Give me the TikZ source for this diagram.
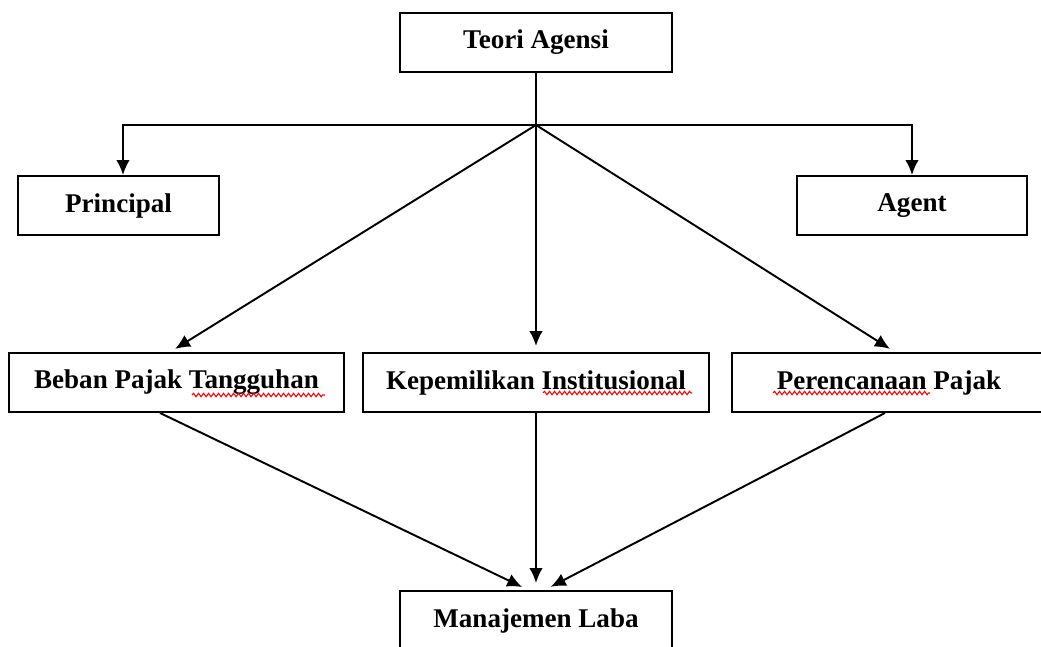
\documentclass[tikz,border=0pt]{standalone}
\usepackage{fontspec}
\setmainfont{Liberation Serif}
\usetikzlibrary{arrows.meta,decorations.pathmorphing}

\tikzset{
  kotak/.style={draw,line width=1.1pt,inner sep=0pt,minimum height=1.18cm,
    font=\fontsize{15.4}{18}\selectfont\bfseries},
  panah/.style={line width=1.1pt,-{Latex[length=0.3cm,width=0.27cm]}},
  garis/.style={line width=1.1pt},
  salah/.style={red,line width=0.6pt,decorate,
    decoration={snake,segment length=0.1cm,amplitude=0.035cm}}
}

\begin{document}
\begin{tikzpicture}[x=0.02cm,y=-0.02cm]
   \useasboundingbox (0,0) rectangle (1041,646);

   % kotak-kotak
   \node[kotak,minimum width=5.44cm] (teori) at (536,42.5) {Teori Agensi};
   \node[kotak,minimum width=4.02cm] (principal) at (118.5,205.5) {Principal};
   \node[kotak,minimum width=4.6cm] (agent) at (912,205.5) {Agent};

   \node[kotak,minimum width=6.7cm] (beban) at (176.5,382.5) {Beban Pajak Tangguhan};
   \node[kotak,minimum width=6.92cm] (milik) at (536,382.5) {Kepemilikan Institusional};
   \node[kotak,minimum width=6.28cm] (rencana) at (889,382.5) {Perencanaan Pajak};

   \node[kotak,minimum width=5.44cm] (laba) at (536,620.5) {Manajemen Laba};

   % garis bercabang
   \coordinate (cabang) at (536,125);
   \draw[garis] (teori.south) -- (cabang);
   \draw[panah] (cabang) -| ([xshift=0.09cm]principal.north);
   \draw[panah] (cabang) -| (agent.north);
   \draw[panah,shorten >=0.12cm] (cabang) -- ([xshift=-0.13cm]beban.north);
   \draw[panah,shorten >=0.12cm] (cabang) -- (milik.north);
   \draw[panah,shorten >=0.12cm] (cabang) -- ([xshift=0.12cm]rencana.north);

   \draw[panah,shorten >=0.14cm] ([xshift=-0.33cm]beban.south) -- ([xshift=-0.15cm]laba.north);
   \draw[panah,shorten >=0.14cm] (milik.south) -- (laba.north);
   \draw[panah,shorten >=0.14cm] ([xshift=-0.08cm]rencana.south) -- ([xshift=0.17cm]laba.north);

   % garis merah ejaan
   \draw[salah] (192,395) -- (325,395);
   \draw[salah] (543,393) -- (692,393);
   \draw[salah] (773,393) -- (930,393);
\end{tikzpicture}
\end{document}
